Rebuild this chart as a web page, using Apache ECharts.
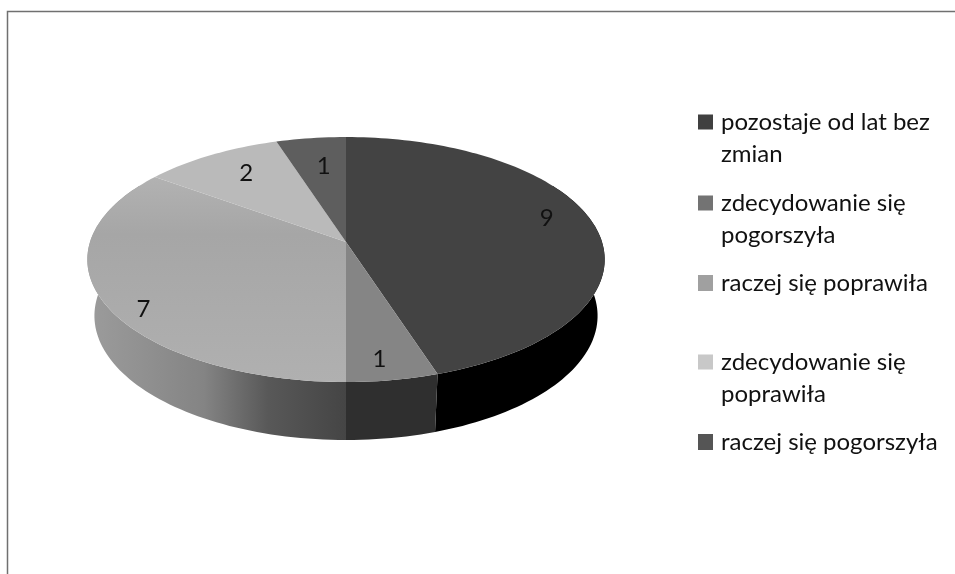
<!DOCTYPE html>
<html>
<head>
<meta charset="utf-8">
<style>html,body{margin:0;padding:0;background:#fff}#c{width:955px;height:574px}</style>
<script src="https://cdn.jsdelivr.net/npm/echarts@6/dist/echarts.min.js"></script>
</head>
<body>
<div id="c"></div>
<script>
const categories = ['pozostaje od lat bez zmian','zdecydowanie się pogorszyła','raczej się poprawiła','zdecydowanie się poprawiła','raczej się pogorszyła'];
const values = [9, 1, 7, 2, 1];
const topColors = ['#434343','#858585','#acacac','#bababa','#5e5e5e'];
const legendColors = ['#404040','#737373','#a0a0a0','#c8c8c8','#555555'];
const legendLines = [['pozostaje od lat bez','zmian'],['zdecydowanie się','pogorszyła'],['raczej się poprawiła'],['zdecydowanie się','poprawiła'],['raczej się pogorszyła']];
const legendTops = [106, 187, 267, 346, 426];
const labelNudges = [[-4,-26],[1,3],[-18,5],[22,-7],[10,4]];

const total = values.reduce((a,b)=>a+b,0);
const P = 0.143;
function project(deg, A, y0, B){
  const t = deg*Math.PI/180, u = Math.sin(t), v = -Math.cos(t), w = 1 - P*v;
  return [346 + A*u/w, y0 + B*v/w];
}
const topP = d => project(d, 256, 242, 120);
const botP = d => project(d, 249, 298, 121.7);
function arc(f, a, b){
  const pts = [], n = Math.max(2, Math.ceil(Math.abs(b-a)/1.5));
  for(let i=0;i<=n;i++) pts.push(f(a+(b-a)*i/n));
  return pts;
}
function wallFill(i){
  if(i===2) return new echarts.graphic.LinearGradient(0,0,1,0,[
    {offset:0,color:'#9c9c9c'},{offset:0.45,color:'#848484'},{offset:0.7,color:'#585858'},{offset:1,color:'#454545'}]);
  return i===0 ? '#000000' : (i===1 ? '#2f2f2f' : '#555555');
}
function topFill(i){
  if(i===2) return new echarts.graphic.LinearGradient(0,0,0,1,[
    {offset:0,color:'#b2b2b2'},{offset:0.28,color:'#a6a6a6'},{offset:1,color:'#b0b0b0'}]);
  return topColors[i];
}
function sliceRender(i){
  return function(){
    const before = values.slice(0,i).reduce((a,b)=>a+b,0);
    const a0 = before/total*360, a1 = (before+values[i])/total*360;
    const children = [];
    const wa = Math.max(a0,60), wb = Math.min(a1,300);
    if(wb>wa){
      children.push({type:'polygon',z2:1,silent:true,
        shape:{points:arc(topP,wa,wb).concat(arc(botP,wb,wa))},
        style:{fill:wallFill(i)}});
    }
    children.push({type:'polygon',z2:2,silent:true,
      shape:{points:[[346,242]].concat(arc(topP,a0,a1))},
      style:{fill:topFill(i)}});
    const mid = (a0+a1)/2, r = mid*Math.PI/180;
    children.push({type:'text',z2:5,silent:true,
      style:{x:346+0.8*259*Math.sin(r)+labelNudges[i][0],
             y:259.5-0.8*122.5*Math.cos(r)+labelNudges[i][1],
             text:String(values[i]),align:'center',verticalAlign:'middle',
             font:'24px Lato',fill:'#111'}});
    return {type:'group',children};
  };
}
const chart = echarts.init(document.getElementById('c'),null,{renderer:'canvas'});
chart.setOption({
  animation:false,
  backgroundColor:'#ffffff',
  legend: categories.map((name,i)=>{
    const two = legendLines[i].length>1;
    return {
      data:[name], show:true, left:698, top:legendTops[i], padding:0, orient:'vertical',
      itemWidth:15, itemHeight: two?47:16, selectedMode:false,
      icon: two ? 'path://M0 0H15V15H0ZM0 47L0 47Z' : 'rect',
      itemStyle:{color:legendColors[i]},
      formatter:()=>legendLines[i].join('\n'),
      textStyle:{fontFamily:'Lato',fontSize:24,color:'#111',lineHeight:32,padding:[0,0,0,3]}
    };
  }),
  series: categories.map((name,i)=>({
    type:'custom', name, coordinateSystem:'none', silent:true,
    itemStyle:{color:topColors[i]},
    data:[[values[i]]],
    renderItem:sliceRender(i)
  })),
  graphic:[
    {type:'polyline',silent:true,shape:{points:[[7.5,574],[7.5,11.5],[955,11.5]]},style:{stroke:'#707070',lineWidth:1.5,fill:null}}
  ]
});
</script>
</body>
</html>
